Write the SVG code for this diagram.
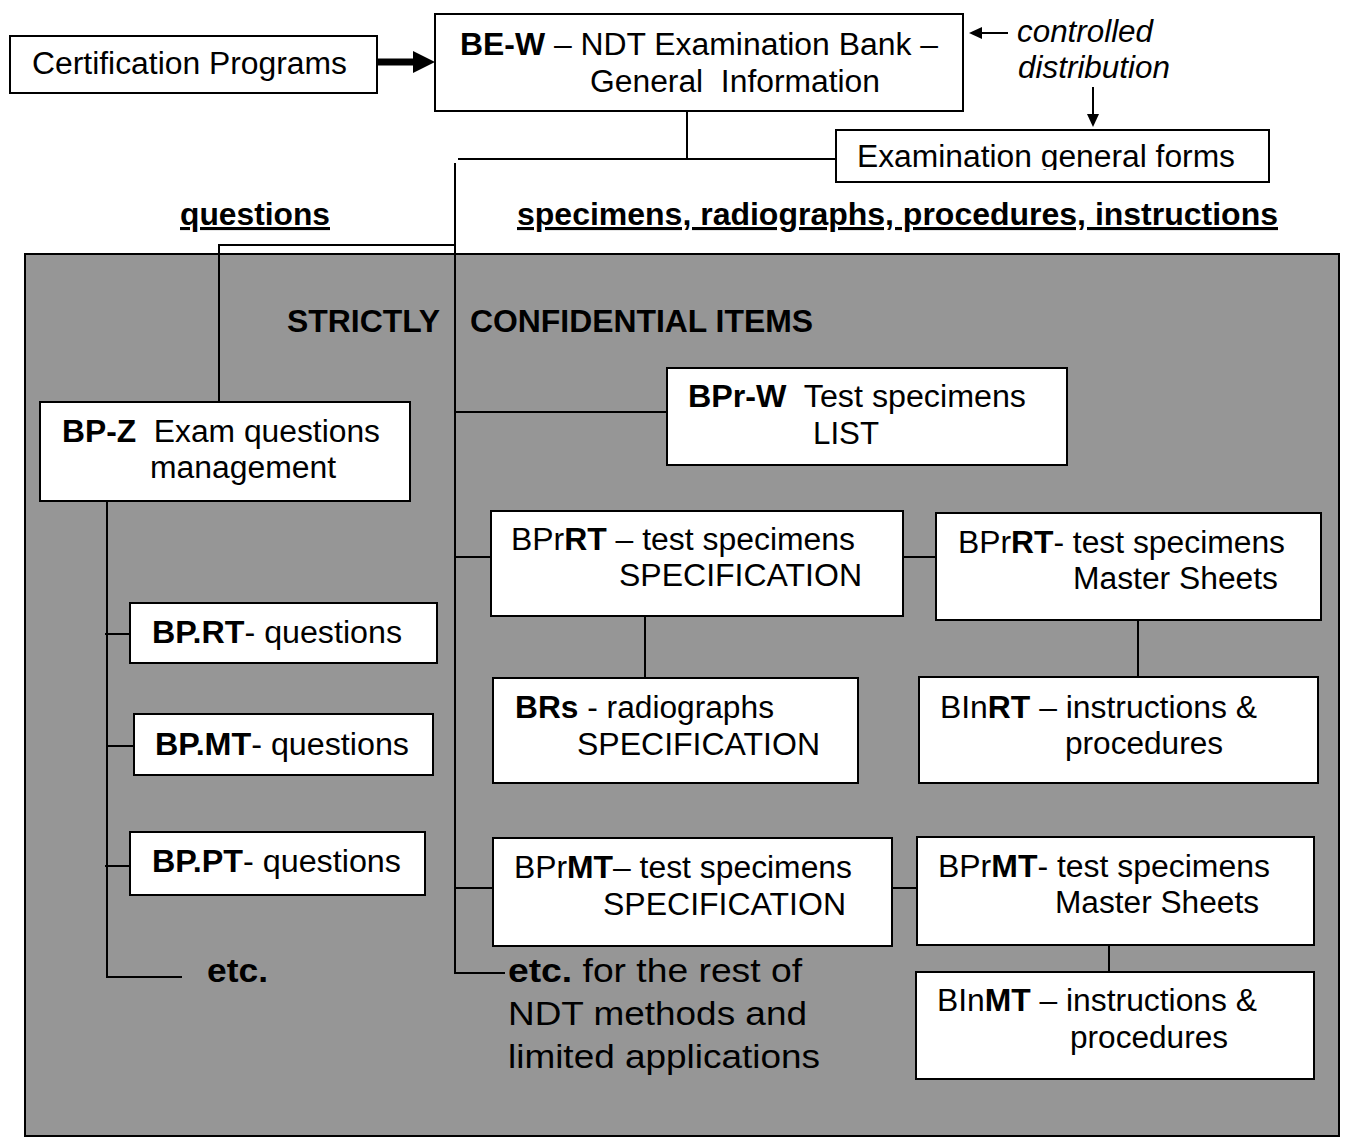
<svg xmlns="http://www.w3.org/2000/svg" width="1346" height="1138" viewBox="0 0 1346 1138">
<style>
.box{fill:#fff;stroke:#000;stroke-width:2}
.ln{fill:none;stroke:#000;stroke-width:2}
.t{font-family:"Liberation Sans",Arial,sans-serif;font-size:31px;fill:#000}
.big{font-size:33px}
.b{font-weight:bold}
.i{font-style:italic}
.u{text-decoration:underline}
</style>
<defs>
<marker id="arrThick" markerUnits="userSpaceOnUse" markerWidth="22" markerHeight="22" refX="2" refY="11" orient="auto">
<path d="M0,0 L22,11 L0,22 z" fill="#000"/>
</marker>
<marker id="arrThin" markerUnits="userSpaceOnUse" markerWidth="13" markerHeight="12" refX="1" refY="6" orient="auto">
<path d="M0,0 L13,6 L0,12 z" fill="#000"/>
</marker>
<clipPath id="clipForms"><rect x="836" y="130" width="434" height="40"/></clipPath>
</defs>

<rect id="panel" x="25" y="254" width="1314" height="882" fill="#969696" stroke="#000" stroke-width="2"/>

<g id="connectors">
<line x1="377" y1="62" x2="415" y2="62" stroke="#000" stroke-width="7" marker-end="url(#arrThick)"/>
<line class="ln" x1="1008" y1="33" x2="981" y2="33" marker-end="url(#arrThin)"/>
<line class="ln" x1="1093" y1="87" x2="1093" y2="115" marker-end="url(#arrThin)"/>
<path class="ln" d="M687,111 V159"/>
<path class="ln" d="M458,159 H836"/>
<path class="ln" d="M455,163 V973 H505"/>
<path class="ln" d="M455,245 H219 V402"/>
<path class="ln" d="M455,412 H667"/>
<path class="ln" d="M455,557 H491"/>
<path class="ln" d="M455,888 H493"/>
<path class="ln" d="M903,557 H937"/>
<path class="ln" d="M645,616 V678"/>
<path class="ln" d="M1138,620 V677"/>
<path class="ln" d="M892,888 H917"/>
<path class="ln" d="M1109,945 V972"/>
<path class="ln" d="M107,501 V977 H182"/>
<path class="ln" d="M105,634 H130"/>
<path class="ln" d="M107,746 H134"/>
<path class="ln" d="M105,866 H130"/>
</g>

<g id="labels">
<text class="t i" x="1017" y="42" textLength="136" lengthAdjust="spacingAndGlyphs">controlled</text>
<text class="t i" x="1018" y="78" textLength="152" lengthAdjust="spacingAndGlyphs">distribution</text>
<text class="t b u" x="180" y="225" textLength="150" lengthAdjust="spacingAndGlyphs">questions</text>
<text class="t b u" x="517" y="225" textLength="761" lengthAdjust="spacingAndGlyphs">specimens, radiographs, procedures, instructions</text>
<text class="t b" x="287" y="332" textLength="153" lengthAdjust="spacingAndGlyphs">STRICTLY</text>
<text class="t b" x="470" y="332" textLength="343" lengthAdjust="spacingAndGlyphs">CONFIDENTIAL ITEMS</text>
<text class="t b big" x="207" y="982" textLength="61" lengthAdjust="spacingAndGlyphs">etc.</text>
<text class="t big" x="508" y="982" textLength="294" lengthAdjust="spacingAndGlyphs"><tspan class="b">etc.</tspan> for the rest of</text>
<text class="t big" x="508" y="1025" textLength="299" lengthAdjust="spacingAndGlyphs">NDT methods and</text>
<text class="t big" x="508" y="1068" textLength="312" lengthAdjust="spacingAndGlyphs">limited applications</text>
</g>

<g id="cert">
<rect class="box" x="10" y="36" width="367" height="57"/>
<text class="t" x="32" y="74" textLength="315" lengthAdjust="spacingAndGlyphs">Certification Programs</text>
</g>

<g id="bew">
<rect class="box" x="435" y="14" width="528" height="97"/>
<text class="t" x="460" y="55" textLength="478" lengthAdjust="spacingAndGlyphs"><tspan class="b">BE-W</tspan> – NDT Examination Bank –</text>
<text class="t" x="590" y="92" textLength="290" lengthAdjust="spacingAndGlyphs">General&#160; Information</text>
</g>

<g id="forms">
<rect class="box" x="836" y="130" width="433" height="52"/>
<text class="t" x="857" y="167" textLength="378" lengthAdjust="spacingAndGlyphs" clip-path="url(#clipForms)">Examination general forms</text>
</g>

<g id="bpz">
<rect class="box" x="40" y="402" width="370" height="99"/>
<text class="t" x="62" y="442" textLength="318" lengthAdjust="spacingAndGlyphs"><tspan class="b">BP-Z</tspan>&#160; Exam questions</text>
<text class="t" x="150" y="478" textLength="186" lengthAdjust="spacingAndGlyphs">management</text>
</g>

<g id="bprt">
<rect class="box" x="130" y="603" width="307" height="60"/>
<text class="t" x="152" y="643" textLength="250" lengthAdjust="spacingAndGlyphs"><tspan class="b">BP.RT</tspan>- questions</text>
</g>

<g id="bpmt">
<rect class="box" x="134" y="714" width="299" height="61"/>
<text class="t" x="155" y="755" textLength="254" lengthAdjust="spacingAndGlyphs"><tspan class="b">BP.MT</tspan>- questions</text>
</g>

<g id="bppt">
<rect class="box" x="130" y="832" width="295" height="63"/>
<text class="t" x="152" y="872" textLength="249" lengthAdjust="spacingAndGlyphs"><tspan class="b">BP.PT</tspan>- questions</text>
</g>

<g id="bprw">
<rect class="box" x="667" y="368" width="400" height="97"/>
<text class="t" x="688" y="407" textLength="338" lengthAdjust="spacingAndGlyphs"><tspan class="b">BPr-W</tspan>&#160; Test specimens</text>
<text class="t" x="813" y="444" textLength="66" lengthAdjust="spacingAndGlyphs">LIST</text>
</g>

<g id="bprrt-spec">
<rect class="box" x="491" y="511" width="412" height="105"/>
<text class="t" x="511" y="550" textLength="344" lengthAdjust="spacingAndGlyphs">BPr<tspan class="b">RT</tspan> – test specimens</text>
<text class="t" x="619" y="586" textLength="243" lengthAdjust="spacingAndGlyphs">SPECIFICATION</text>
</g>

<g id="bprrt-master">
<rect class="box" x="936" y="513" width="385" height="107"/>
<text class="t" x="958" y="553" textLength="327" lengthAdjust="spacingAndGlyphs">BPr<tspan class="b">RT</tspan>- test specimens</text>
<text class="t" x="1073" y="589" textLength="205" lengthAdjust="spacingAndGlyphs">Master Sheets</text>
</g>

<g id="brs">
<rect class="box" x="493" y="678" width="365" height="105"/>
<text class="t" x="515" y="718" textLength="259" lengthAdjust="spacingAndGlyphs"><tspan class="b">BRs</tspan> - radiographs</text>
<text class="t" x="577" y="755" textLength="243" lengthAdjust="spacingAndGlyphs">SPECIFICATION</text>
</g>

<g id="binrt">
<rect class="box" x="919" y="677" width="399" height="106"/>
<text class="t" x="940" y="718" textLength="317" lengthAdjust="spacingAndGlyphs">BIn<tspan class="b">RT</tspan> – instructions &amp;</text>
<text class="t" x="1065" y="754" textLength="158" lengthAdjust="spacingAndGlyphs">procedures</text>
</g>

<g id="bprmt-spec">
<rect class="box" x="493" y="838" width="399" height="108"/>
<text class="t" x="514" y="878" textLength="338" lengthAdjust="spacingAndGlyphs">BPr<tspan class="b">MT</tspan>– test specimens</text>
<text class="t" x="603" y="915" textLength="243" lengthAdjust="spacingAndGlyphs">SPECIFICATION</text>
</g>

<g id="bprmt-master">
<rect class="box" x="917" y="837" width="397" height="108"/>
<text class="t" x="938" y="877" textLength="332" lengthAdjust="spacingAndGlyphs">BPr<tspan class="b">MT</tspan>- test specimens</text>
<text class="t" x="1055" y="913" textLength="204" lengthAdjust="spacingAndGlyphs">Master Sheets</text>
</g>

<g id="binmt">
<rect class="box" x="916" y="972" width="398" height="107"/>
<text class="t" x="937" y="1011" textLength="320" lengthAdjust="spacingAndGlyphs">BIn<tspan class="b">MT</tspan> – instructions &amp;</text>
<text class="t" x="1070" y="1048" textLength="158" lengthAdjust="spacingAndGlyphs">procedures</text>
</g>
</svg>
